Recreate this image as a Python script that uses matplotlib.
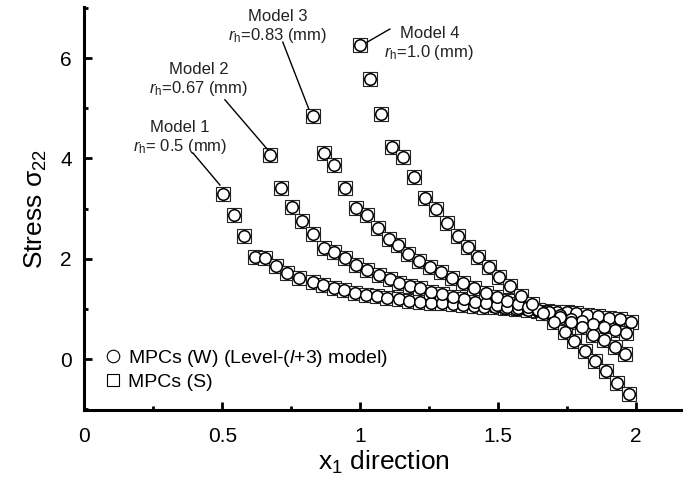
import matplotlib
matplotlib.use("Agg")
import matplotlib.pyplot as plt
from matplotlib.lines import Line2D
from matplotlib.ticker import MultipleLocator

plt.rcParams['font.family'] = ['Liberation Sans', 'DejaVu Sans']
plt.rcParams['mathtext.fontset'] = 'custom'
plt.rcParams['mathtext.rm'] = 'Liberation Sans'
plt.rcParams['mathtext.it'] = 'Liberation Sans:italic'
plt.rcParams['mathtext.bf'] = 'Liberation Sans:bold'

# ---- data ----
m1_x = [0.503, 0.542, 0.579, 0.620, 0.656, 0.696, 0.736, 0.778, 0.827, 0.866, 0.904,
        0.941, 0.981, 1.019, 1.059, 1.098, 1.140, 1.177, 1.216, 1.256, 1.295, 1.335,
        1.373, 1.411, 1.449, 1.487, 1.525, 1.563, 1.601, 1.639, 1.677, 1.713, 1.749,
        1.783, 1.822, 1.862, 1.901, 1.940, 1.982]
m1_y = [3.30, 2.87, 2.45, 2.03, 2.01, 1.85, 1.71, 1.62, 1.54, 1.47, 1.42,
        1.37, 1.32, 1.28, 1.25, 1.22, 1.19, 1.16, 1.14, 1.12, 1.11, 1.09,
        1.07, 1.06, 1.04, 1.03, 1.01, 1.00, 0.99, 0.97, 0.96, 0.94, 0.93,
        0.91, 0.87, 0.85, 0.82, 0.79, 0.74]

m2_x = [0.672, 0.712, 0.751, 0.790, 0.827, 0.868, 0.905, 0.946, 0.986, 1.026, 1.067,
        1.107, 1.141, 1.179, 1.218, 1.258, 1.298, 1.336, 1.376, 1.415, 1.455, 1.494,
        1.532, 1.570, 1.608, 1.646, 1.685, 1.725, 1.764, 1.804, 1.843, 1.882, 1.922,
        1.962]
m2_y = [4.07, 3.42, 3.04, 2.75, 2.49, 2.21, 2.14, 2.01, 1.87, 1.77, 1.67,
        1.59, 1.51, 1.45, 1.42, 1.34, 1.29, 1.24, 1.19, 1.14, 1.11, 1.07,
        1.04, 1.01, 0.98, 0.95, 0.92, 0.87, 0.80, 0.76, 0.70, 0.64, 0.58,
        0.51]

m3_x = [0.827, 0.867, 0.905, 0.946, 0.986, 1.026, 1.065, 1.104, 1.137, 1.173, 1.213,
        1.254, 1.294, 1.334, 1.373, 1.412, 1.454, 1.494, 1.532, 1.570, 1.608, 1.646,
        1.685, 1.725, 1.764, 1.804, 1.843, 1.882, 1.922, 1.961]
m3_y = [4.85, 4.11, 3.87, 3.42, 3.02, 2.87, 2.62, 2.40, 2.27, 2.10, 1.96,
        1.83, 1.73, 1.62, 1.52, 1.42, 1.32, 1.24, 1.16, 1.09, 1.03, 0.98,
        0.94, 0.84, 0.74, 0.64, 0.47, 0.37, 0.24, 0.11]

m4_x = [1.000, 1.036, 1.076, 1.116, 1.155, 1.195, 1.236, 1.276, 1.315, 1.354, 1.390,
        1.428, 1.466, 1.504, 1.544, 1.584, 1.624, 1.663, 1.701, 1.741, 1.776, 1.813,
        1.852, 1.892, 1.932, 1.973]
m4_y = [6.26, 5.58, 4.88, 4.23, 4.03, 3.62, 3.22, 2.99, 2.72, 2.45, 2.24,
        2.04, 1.83, 1.63, 1.45, 1.25, 1.09, 0.91, 0.74, 0.54, 0.36, 0.16,
        -0.04, -0.24, -0.47, -0.70]

model_labels = ["Model 1\n$r_\\mathrm{h}$= 0.5 (mm)",
                "Model 2\n$r_\\mathrm{h}$=0.67 (mm)",
                "Model 3\n$r_\\mathrm{h}$=0.83 (mm)",
                "Model 4\n$r_\\mathrm{h}$=1.0 (mm)"]
legend_labels = ["MPCs (W) (Level-($l$+3) model)", "MPCs (S)"]
x_ticks = [0, 0.5, 1, 1.5, 2]
x_ticklabels = ["0", "0.5", "1", "1.5", "2"]
y_ticks = [0, 2, 4, 6]

fig = plt.figure(figsize=(6.83, 4.86), dpi=100)
ax = fig.add_axes([0.1237, 0.156, 0.8763, 0.8296])

series = [(m1_x, m1_y), (m2_x, m2_y), (m3_x, m3_y), (m4_x, m4_y)]
for xs, ys in series:
    ax.plot(xs, ys, 's', ms=9.4, mfc='white', mec='#222222', mew=0.8, zorder=3)
    ax.plot(xs, ys, 'o', ms=8.3, mfc='white', mec='black', mew=1.1, zorder=4)

ax.set_xlim(0, 2.17)
ax.set_ylim(-1.02, 7.02)
ax.set_xticks(x_ticks)
ax.set_xticklabels(x_ticklabels)
ax.set_yticks(y_ticks)
ax.xaxis.set_minor_locator(MultipleLocator(0.25))
ax.yaxis.set_minor_locator(MultipleLocator(1))

for s in ['top', 'right']:
    ax.spines[s].set_visible(False)
for s in ['left', 'bottom']:
    ax.spines[s].set_linewidth(2.2)

ax.tick_params(which='major', direction='in', length=6, width=2, labelsize=15)
ax.tick_params(which='minor', direction='in', length=3, width=2)
ax.tick_params(axis='x', which='major', pad=12)
ax.tick_params(axis='y', which='major', pad=9)

ax.set_xlabel("x$_1$ direction", fontsize=19, labelpad=2)
ax.set_ylabel("Stress σ$_{22}$", fontsize=19, labelpad=8)

# annotations
ann_text_xy = [(0.346, 4.41), (0.415, 5.56), (0.70, 6.62), (1.25, 6.28)]
ann_line_start = [(0.393, 4.11), (0.509, 5.17), (0.719, 6.32), (1.107, 6.58)]
ann_line_end = [(0.491, 3.47), (0.665, 4.17), (0.813, 4.99), (1.022, 6.31)]
for lab, txy, ls, le in zip(model_labels, ann_text_xy, ann_line_start, ann_line_end):
    ax.text(txy[0], txy[1], lab, ha='center', va='center', fontsize=12,
            linespacing=1.15, color='#222222')
    ax.plot([ls[0], le[0]], [ls[1], le[1]], color='black', lw=1.0, zorder=5)

handles = [Line2D([], [], marker='o', ls='none', ms=9, mfc='white', mec='black', mew=0.8),
           Line2D([], [], marker='s', ls='none', ms=8.5, mfc='white', mec='black', mew=0.8)]
ax.legend(handles, legend_labels, loc='lower left', bbox_to_anchor=(0.012, 0.015),
          frameon=False, fontsize=14, handlelength=0.8, handletextpad=0.35,
          labelspacing=0.2, borderaxespad=0.3)

fig.savefig("out.png", dpi=100)
